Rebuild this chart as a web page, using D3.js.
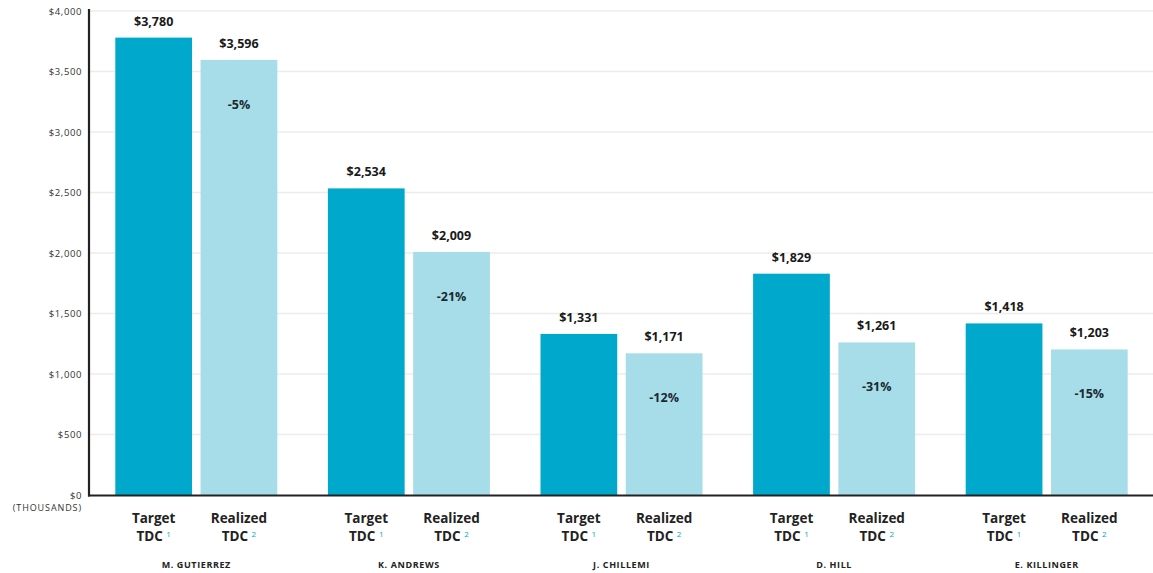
<!DOCTYPE html>
<html><head><meta charset="utf-8">
<script src="https://cdn.jsdelivr.net/npm/d3@7"></script>
<style>
html,body{margin:0;padding:0;background:#fff;}
text{font-family:"Open Sans","Lato",sans-serif;}
</style></head>
<body><svg id="c" width="1153" height="573"></svg>
<script>
const executives = ["M. GUTIERREZ","K. ANDREWS","J. CHILLEMI","D. HILL","E. KILLINGER"];
const targetTDC = [3780, 2534, 1331, 1829, 1418];
const realizedTDC = [3596, 2009, 1171, 1261, 1203];
const changePct = ["-5%","-21%","-12%","-31%","-15%"];
const seriesNames = [["Target","TDC","1"],["Realized","TDC","2"]];
const yTicks = [0,500,1000,1500,2000,2500,3000,3500,4000];

(function(){
const svg = d3.select("#c");
const mLeft = 90, mRight = 1153, mTop = 11, mBottom = 495;

const x0 = d3.scaleBand().domain(executives).range([mLeft, mRight]).paddingInner(0).paddingOuter(0);
const x1 = d3.scaleBand().domain([0,1]).range([0, 162]).paddingInner(0.1);
const y = d3.scaleLinear().domain([0,4000]).range([mBottom, mTop]);
const colors = ["#00A9CC","#A6DDE9"];
const groupOff = (x0.bandwidth() - 162)/2;

// gridlines
svg.append("g").selectAll("line").data(yTicks.filter(d=>d>0)).join("line")
  .attr("x1", mLeft).attr("x2", mRight).attr("y1", d=>y(d)).attr("y2", d=>y(d))
  .attr("stroke","#ececec").attr("stroke-width",1.5);

// y tick labels
const fmt = d => "$" + d3.format(",")(d);
svg.append("g").selectAll("text").data(yTicks).join("text")
  .attr("x", 82).attr("y", d=>y(d)+3.5).attr("text-anchor","end")
  .attr("font-size", 9.5).attr("letter-spacing","0.6").attr("fill","#333").text(fmt);
svg.append("text").attr("x",82).attr("y",511).attr("text-anchor","end")
  .attr("font-size",9).attr("fill","#333").attr("letter-spacing","0.9").text("(THOUSANDS)");

const data = executives.map((e,i)=>({e, vals:[targetTDC[i], realizedTDC[i]], pct: changePct[i]}));

const g = svg.append("g").selectAll("g").data(data).join("g")
  .attr("transform", d=>`translate(${x0(d.e)+groupOff},0)`);

g.selectAll("rect").data(d=>d.vals).join("rect")
  .attr("x",(d,i)=>x1(i)).attr("width", x1.bandwidth())
  .attr("y", d=>y(d)).attr("height", d=>mBottom - y(d))
  .attr("fill",(d,i)=>colors[i]);

g.selectAll("text.val").data(d=>d.vals).join("text").attr("class","val")
  .attr("x",(d,i)=>x1(i)+x1.bandwidth()/2).attr("y", d=>y(d)-12)
  .attr("text-anchor","middle").attr("font-size",12.5).attr("font-weight",700)
  .attr("fill","#1a1a1a").text(fmt);

g.append("text").attr("x", x1(1)+x1.bandwidth()/2).attr("y", d=>y(d.vals[1])+49)
  .attr("text-anchor","middle").attr("font-size",12.5).attr("font-weight",700)
  .attr("fill","#1a2a30").text(d=>d.pct);

// category labels
g.each(function(d){
  const gg = d3.select(this);
  seriesNames.forEach((s,i)=>{
    const cx = x1(i)+x1.bandwidth()/2;
    gg.append("text").attr("x",cx).attr("y",523).attr("text-anchor","middle")
      .attr("font-size",13.5).attr("font-weight",700).attr("fill","#222").text(s[0]);
    const t = gg.append("text").attr("x",cx).attr("y",541).attr("text-anchor","middle")
      .attr("font-size",13.5).attr("font-weight",700).attr("fill","#222");
    t.append("tspan").text(s[1]+" ");
    t.append("tspan").attr("font-size",8).attr("dy",-4).attr("fill","#00A9CC").attr("font-weight",400).text(s[2]);
  });
  gg.append("text").attr("x",81).attr("y",568).attr("text-anchor","middle")
    .attr("font-size",9).attr("font-weight",700).attr("letter-spacing","0.6").attr("fill","#222").text(d.e);
});

// axes lines
svg.append("line").attr("x1",89).attr("x2",89).attr("y1",9).attr("y2",496.5)
  .attr("stroke","#222").attr("stroke-width",2.2);
svg.append("line").attr("x1",88).attr("x2",mRight).attr("y1",495.5).attr("y2",495.5)
  .attr("stroke","#222").attr("stroke-width",2.2);
})();
</script></body></html>
